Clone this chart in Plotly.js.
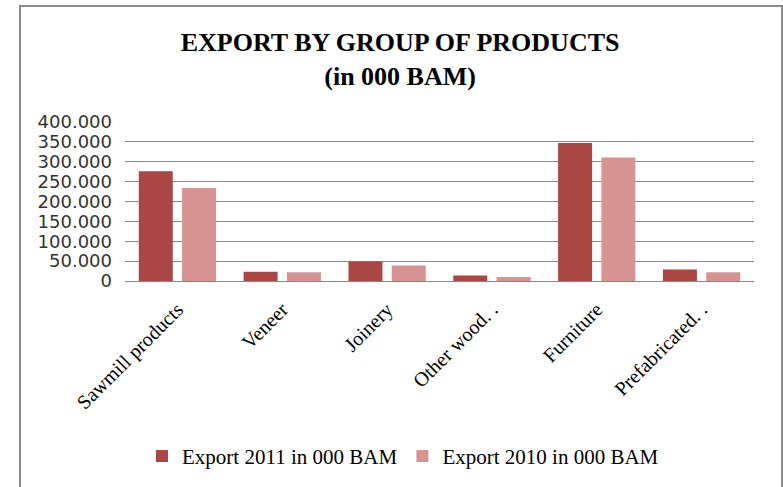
<!DOCTYPE html>
<html>
<head>
<meta charset="utf-8">
<script src="https://cdn.plot.ly/plotly-3.0.1.min.js"></script>
<style>
  html, body { margin: 0; padding: 0; background: #fff; }
  #wrap { position: relative; width: 783px; height: 487px; overflow: hidden; }
  #chart { width: 783px; height: 487px; }
  #frame { position: absolute; left: 19px; top: 5px; width: 760px; height: 500px;
           border: 2px solid #8c8c8c; pointer-events: none; }
</style>
</head>
<body>
<div id="wrap">
  <div id="chart"></div>
  <div id="frame"></div>
</div>
<script>
const categories = ["Sawmill products", "Veneer", "Joinery", "Other wood. .", "Furniture", "Prefabricated. ."];
const export2011 = [276000, 23000, 49000, 14000, 347000, 29000];
const export2010 = [234000, 22000, 39000, 10000, 311000, 22000];
const seriesNames = ["Export 2011 in 000 BAM", "Export 2010 in 000 BAM"];
const yTickVals = [0, 50000, 100000, 150000, 200000, 250000, 300000, 350000, 400000];
const yTickText = ["0", "50.000", "100.000", "150.000", "200.000", "250.000", "300.000", "350.000", "400.000"];

const serif = "Liberation Serif, Times New Roman, serif";

const traces = [
  { type: "bar", name: seriesNames[0], x: categories, y: export2011,
    marker: { color: "#AA4644" }, hoverinfo: "x+y" },
  { type: "bar", name: seriesNames[1], x: categories, y: export2010,
    marker: { color: "#D59391" }, hoverinfo: "x+y" }
];

const layout = {
  width: 783, height: 487,
  paper_bgcolor: "#ffffff", plot_bgcolor: "#ffffff",
  margin: { l: 125, r: 29, t: 122, b: 205 },
  barmode: "group", bargap: 0.174, bargroupgap: 0.215,
  title: {
    text: "<b>EXPORT BY GROUP OF PRODUCTS<br>(in 000 BAM)</b>",
    font: { family: serif, size: 26, color: "#000" },
    x: 0.511, xanchor: "center", xref: "container",
    y: 1 - 51 / 487, yanchor: "middle", yref: "container"
  },
  xaxis: {
    type: "category", tickangle: -45,
    tickfont: { family: serif, size: 20, color: "#000" },
    showgrid: false, showline: false, ticks: "", ticklen: 0,
    ticklabelstandoff: 12
  },
  yaxis: {
    range: [0, 400000], tickvals: yTickVals, ticktext: yTickText,
    tickfont: { family: "DejaVu Sans, Verdana, sans-serif", size: 18, color: "#333" },
    showgrid: true, gridcolor: "#8a8a8a", gridwidth: 1,
    zeroline: true, zerolinecolor: "#8a8a8a", zerolinewidth: 1,
    showline: false, ticks: "", ticklabelstandoff: 12
  },
  showlegend: true,
  legend: {
    orientation: "h", x: 0.442, xanchor: "center", y: -1.09, yanchor: "middle",
    font: { family: serif, size: 21, color: "#000" },
    itemwidth: 30, tracegroupgap: 0
  }
};

Plotly.newPlot("chart", traces, layout, { staticPlot: true, displayModeBar: false });
</script>
</body>
</html>
